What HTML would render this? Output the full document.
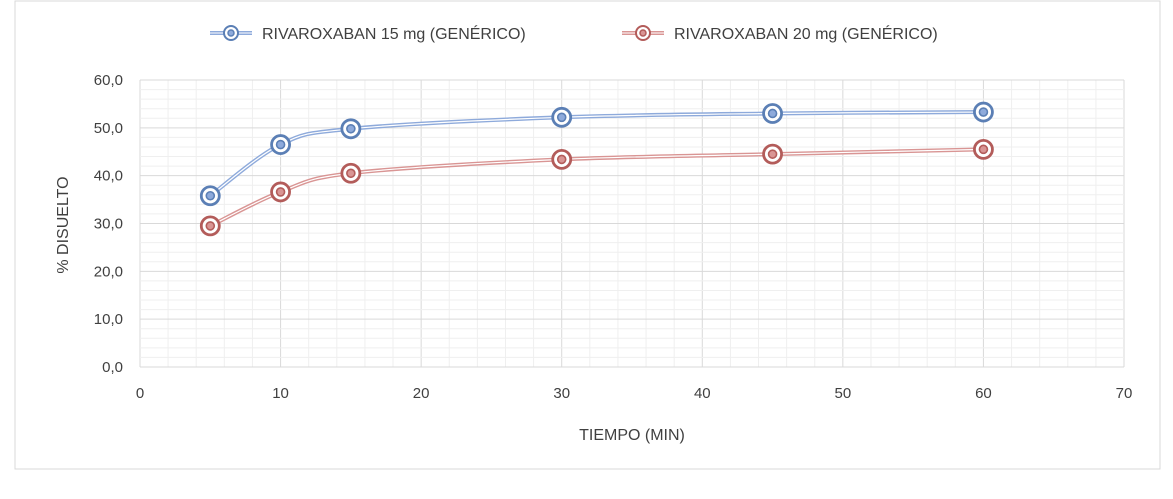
<!DOCTYPE html>
<html><head><meta charset="utf-8"><style>
html,body{margin:0;padding:0;background:#fff;}
svg{display:block;font-family:"Liberation Sans",sans-serif;}
</style></head><body>
<svg id="c" width="1173" height="499">
<rect x="15" y="1" width="1145" height="468" fill="#fff" stroke="#d9d9d9"/>
<g id="grid"></g><g id="series"></g><g id="axes"></g>
<text x="632" y="440" text-anchor="middle" font-size="16" fill="#404040">TIEMPO (MIN)</text>
<text transform="translate(68,225) rotate(-90)" text-anchor="middle" font-size="16" fill="#404040">% DISUELTO</text>
<g>
<g>
<line x1="210" y1="33" x2="252" y2="33" stroke="#8eaadb" stroke-width="4"/><line x1="210" y1="33" x2="252" y2="33" stroke="#fff" stroke-width="1"/>
<circle cx="231" cy="33" r="7" fill="#fff" stroke="#5b7fb5" stroke-width="2"/><circle cx="231" cy="33" r="3" fill="#8eaadb" stroke="#5b7fb5" stroke-width="1.5"/>
<text x="262" y="39" font-size="16" fill="#404040">RIVAROXABAN 15 mg (GENÉRICO)</text></g>
<g>
<line x1="622" y1="33" x2="664" y2="33" stroke="#d99594" stroke-width="4"/><line x1="622" y1="33" x2="664" y2="33" stroke="#fff" stroke-width="1"/>
<circle cx="643" cy="33" r="7" fill="#fff" stroke="#b35c5a" stroke-width="2"/><circle cx="643" cy="33" r="3" fill="#d99594" stroke="#b35c5a" stroke-width="1.5"/>
<text x="674" y="39" font-size="16" fill="#404040">RIVAROXABAN 20 mg (GENÉRICO)</text></g>
</g>
</svg>
<script>
const times=[5,10,15,30,45,60];
const s15=[35.8,46.5,49.8,52.2,53.0,53.3];
const s20=[29.5,36.6,40.5,43.4,44.5,45.5];
const xTicks=[0,10,20,30,40,50,60,70];
const yTicks=[0,10,20,30,40,50,60];
const X=v=>140+v*(1124-140)/70, Y=v=>367-v*(367-80)/60;
const NS="http://www.w3.org/2000/svg";
function mk(t,a,p){const e=document.createElementNS(NS,t);for(const k in a)e.setAttribute(k,a[k]);p.appendChild(e);return e;}
const g=document.getElementById('grid'),ax=document.getElementById('axes'),sr=document.getElementById('series');
for(let v=0;v<=70;v+=2){const l=mk('line',{x1:X(v),x2:X(v),y1:Y(0),y2:Y(60),stroke:v%10?'#efefef':'#d9d9d9','stroke-width':1},g);

}
for(let v=0;v<=60;v+=2){const l=mk('line',{x1:X(0),x2:X(70),y1:Y(v),y2:Y(v),stroke:v%10?'#efefef':'#d9d9d9','stroke-width':1},g);

}
xTicks.forEach(v=>{const t=mk('text',{x:X(v),y:Y(0)+31,'text-anchor':'middle','font-size':15,fill:'#404040'},ax);t.textContent=v;

});
yTicks.forEach(v=>{const t=mk('text',{x:X(0)-17,y:Y(v)+5,'text-anchor':'end','font-size':15,fill:'#404040'},ax);t.textContent=v.toFixed(1).replace('.',',');

});
function path(vals){const p=times.map((t,i)=>[X(t),Y(vals[i])]);let d=`M${p[0][0]},${p[0][1]}`;
for(let i=0;i<p.length-1;i++){const p0=p[i-1]||p[i],p1=p[i],p2=p[i+1],p3=p[i+2]||p2;const k=1/6;
d+=` C${p1[0]+(p2[0]-p0[0])*k},${p1[1]+(p2[1]-p0[1])*k} ${p2[0]-(p3[0]-p1[0])*k},${p2[1]-(p3[1]-p1[1])*k} ${p2[0]},${p2[1]}`;}return d;}
function draw(vals,light,dark,name){const d=path(vals);
const a=mk('path',{d,fill:'none',stroke:light,'stroke-width':4},sr);


mk('path',{d,fill:'none',stroke:'#fff','stroke-width':1.2},sr);
times.forEach((t,i)=>{const c=mk('circle',{cx:X(t),cy:Y(vals[i]),r:9,fill:'#fff',stroke:dark,'stroke-width':2.8},sr);


mk('circle',{cx:X(t),cy:Y(vals[i]),r:4,fill:light,stroke:dark,'stroke-width':1.6},sr);});}
draw(s15,'#8eaadb','#5b7fb5','series-15mg');
draw(s20,'#d99594','#b35c5a','series-20mg');
</script>
</body></html>
